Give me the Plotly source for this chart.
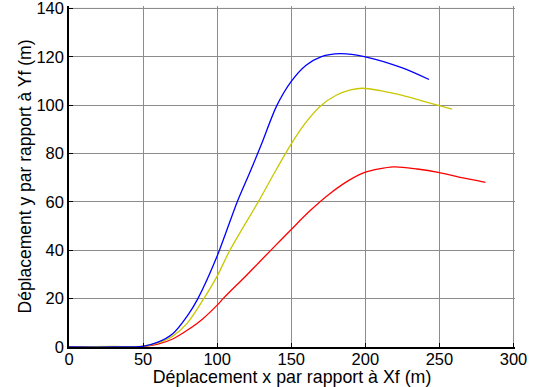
import plotly.graph_objects as go

blue_x = [0, 30, 50, 60, 70, 80, 87, 100, 113.5, 122.6, 130, 140, 150, 160, 170, 183, 200, 225, 243]
blue_y = [0, 0, 0.3, 2, 5.5, 13, 20, 37.6, 60, 73, 84, 99.5, 109.8, 116.5, 120, 121.3, 120, 115.4, 110.6]

yellow_x = [0, 30, 50, 60, 70, 80, 91, 100, 108.6, 127.7, 140, 150, 160, 170, 180, 190, 198, 210, 225, 240, 258.5]
yellow_y = [0, 0.2, 0.3, 1.7, 4.5, 10, 20, 29.3, 40, 60, 73.5, 84, 93, 99.8, 104, 106.3, 107, 106, 104, 101.5, 98.4]

red_x = [0, 30, 50, 60, 70, 80, 90, 100, 104, 120, 137.8, 150, 162.6, 176, 190, 200, 219, 235, 250, 265, 281]
red_y = [0, 0, 0.2, 1.2, 3.3, 7, 11.5, 17.3, 20, 29.8, 41, 48.6, 56.3, 63.4, 69.3, 72.3, 74.5, 73.6, 72.1, 70, 68.1]

x_ticks = [0, 50, 100, 150, 200, 250, 300]
y_ticks = [0, 20, 40, 60, 80, 100, 120, 140]

fig = go.Figure()
for xs, ys, c in [(red_x, red_y, "#ff0000"), (yellow_x, yellow_y, "#c8c800"), (blue_x, blue_y, "#0000ff")]:
    fig.add_trace(go.Scatter(x=xs, y=ys, mode="lines", line=dict(color=c, width=1.3, shape="spline", smoothing=0.8),
                             showlegend=False, hoverinfo="skip"))

# box edges (top/right) drawn like the grid
fig.add_shape(type="line", xref="x", yref="y", x0=0, x1=x_ticks[-1], y0=y_ticks[-1], y1=y_ticks[-1],
              line=dict(color="#8c8c8c", width=1), layer="below")
fig.add_shape(type="line", xref="x", yref="y", x0=x_ticks[-1], x1=x_ticks[-1], y0=0, y1=y_ticks[-1],
              line=dict(color="#8c8c8c", width=1), layer="below")

font = dict(family="Liberation Sans, Arial, sans-serif", size=16.5, color="black")
fig.update_layout(
    width=536, height=387,
    margin=dict(l=69, r=21, t=6, b=40, autoexpand=False),
    paper_bgcolor="white", plot_bgcolor="white",
    font=font,
    xaxis=dict(range=[0, 301], tickvals=x_ticks, showgrid=True, gridcolor="#8c8c8c", gridwidth=1,
               showline=True, linecolor="black", linewidth=1.5, ticks="inside", ticklen=4, tickcolor="black",
               zeroline=False, mirror=False, automargin=False, ticklabelstandoff=-4, ticklabeloverflow="allow",
               title=dict(text="Déplacement x par rapport à Xf (m)", standoff=0, font=dict(size=17.8))),
    yaxis=dict(range=[0, 141], tickvals=y_ticks, showgrid=True, gridcolor="#8c8c8c", gridwidth=1,
               showline=True, linecolor="black", linewidth=1.5, ticks="inside", ticklen=4, tickcolor="black",
               zeroline=False, mirror=False, automargin=False, ticklabeloverflow="allow",
               title=dict(text="Déplacement y par rapport à Yf (m)", standoff=0, font=dict(size=17.5))),
)
fig.write_html("out.html", config={"displayModeBar": False},
               post_script="document.body.style.margin='0';document.body.style.padding='0';")
